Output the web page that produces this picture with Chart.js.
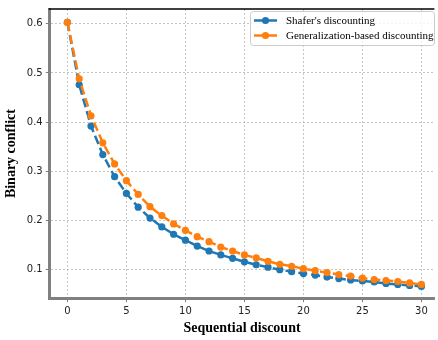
<!DOCTYPE html>
<html>
<head>
<meta charset="utf-8">
<script src="https://cdn.jsdelivr.net/npm/chart.js@4.4.1/dist/chart.umd.min.js"></script>
<style>
  html, body { margin: 0; padding: 0; background: #fff; overflow: hidden; }
  #wrap { width: 438px; height: 340px; }
</style>
</head>
<body>
<div id="wrap"><canvas id="lineCanvas" width="438" height="340"></canvas></div>
<script>
const steps = [0, 1, 2, 3, 4, 5, 6, 7, 8, 9, 10, 11, 12, 13, 14, 15, 16, 17, 18, 19, 20, 21, 22, 23, 24, 25, 26, 27, 28, 29, 30];
const shafer = [0.603, 0.476, 0.392, 0.334, 0.289, 0.255, 0.227, 0.205, 0.187, 0.172, 0.160, 0.148, 0.138, 0.130, 0.123, 0.116, 0.110, 0.105, 0.100, 0.096, 0.092, 0.089, 0.085, 0.082, 0.079, 0.077, 0.075, 0.072, 0.070, 0.068, 0.066];
const generalized = [0.603, 0.488, 0.413, 0.358, 0.315, 0.281, 0.253, 0.228, 0.210, 0.193, 0.180, 0.167, 0.157, 0.146, 0.138, 0.130, 0.124, 0.117, 0.111, 0.107, 0.102, 0.098, 0.094, 0.090, 0.087, 0.083, 0.080, 0.078, 0.076, 0.073, 0.070];
const xTicks = [0, 5, 10, 15, 20, 25, 30];
const yTicks = [0.1, 0.2, 0.3, 0.4, 0.5, 0.6];

const BLUE = "#1f77b4";
const ORANGE = "#ff7f0e";

const toPoints = (vals) => vals.map((v, i) => ({ x: steps[i], y: v }));

// top spine + framed legend inside the plot, like matplotlib
const framePlugin = {
  id: "frame_and_legend",
  afterDraw: (chart) => {
    const { ctx, chartArea: { left, right, top } } = chart;
    ctx.save();
    ctx.strokeStyle = "#000";
    ctx.lineWidth = 1.5;
    ctx.beginPath();
    ctx.moveTo(left - 1, top);
    ctx.lineTo(right, top);
    ctx.stroke();

    // legend box
    const bx = 250, by = 11, bw = 184, bh = 34, r = 3;
    ctx.fillStyle = "rgba(255,255,255,0.8)";
    ctx.strokeStyle = "#cccccc";
    ctx.lineWidth = 1;
    ctx.beginPath();
    ctx.roundRect(bx + 0.5, by + 0.5, bw, bh, r);
    ctx.fill();
    ctx.stroke();

    ctx.font = "11px 'Liberation Serif', serif";
    ctx.textBaseline = "middle";
    ctx.textAlign = "left";
    chart.data.datasets.forEach((ds, i) => {
      const yy = by + 9.5 + i * 15;
      ctx.strokeStyle = ds.borderColor;
      ctx.lineWidth = 2.5;
      ctx.setLineDash([]);
      ctx.beginPath();
      ctx.moveTo(bx + 4, yy);
      ctx.lineTo(bx + 27, yy);
      ctx.stroke();
      ctx.fillStyle = ds.borderColor;
      ctx.beginPath();
      ctx.arc(bx + 15.5, yy, 3.6, 0, Math.PI * 2);
      ctx.fill();
      ctx.fillStyle = "#000";
      ctx.fillText(ds.label, bx + 36, yy + 0.5);
    });
    ctx.restore();
  },
};

const gridStyle = {
  color: "#b8b8b8",
  lineWidth: 0.8,
  tickBorderDash: [],
  tickColor: "#808080",
  tickWidth: 1,
  tickLength: 4,
};

const config = {
  type: "line",
  data: {
    datasets: [
      {
        label: "Shafer's discounting",
        data: toPoints(shafer),
        borderColor: BLUE,
        backgroundColor: BLUE,
        borderWidth: 2.5,
        borderDash: [9, 4],
        pointRadius: 3.6,
        pointHoverRadius: 3.6,
        pointBorderWidth: 0,
        tension: 0,
        order: 2,
      },
      {
        label: "Generalization-based discounting",
        data: toPoints(generalized),
        borderColor: ORANGE,
        backgroundColor: ORANGE,
        borderWidth: 2.5,
        borderDash: [9, 4],
        pointRadius: 3.6,
        pointHoverRadius: 3.6,
        pointBorderWidth: 0,
        tension: 0,
        order: 1,
      },
    ],
  },
  options: {
    responsive: false,
    animation: false,
    layout: { padding: { top: 6, right: 0, left: 3, bottom: 3 } },
    plugins: {
      legend: { display: false },
      tooltip: { enabled: false },
    },
    scales: {
      x: {
        type: "linear",
        min: -1.5,
        max: 31.1,
        afterBuildTicks: (axis) => { axis.ticks = xTicks.map((v) => ({ value: v })); },
        ticks: {
          includeBounds: false,
          font: { family: "'DejaVu Sans'", size: 10 },
          color: "#222",
          padding: 3,
          maxRotation: 0,
        },
        grid: gridStyle,
        border: { color: "#808080", width: 3, dash: [2, 2] },
        title: {
          display: true,
          text: "Sequential discount",
          font: { family: "'Liberation Serif'", size: 14, weight: "bold" },
          color: "#000",
          padding: { top: 0, bottom: 0 },
        },
      },
      y: {
        min: 0.042,
        max: 0.63,
        afterBuildTicks: (axis) => { axis.ticks = yTicks.map((v) => ({ value: v })); },
        ticks: {
          includeBounds: false,
          font: { family: "'DejaVu Sans'", size: 10 },
          color: "#222",
          padding: 3,
          callback: (v) => v.toFixed(1),
        },
        grid: gridStyle,
        border: { color: "#808080", width: 3, dash: [2, 2] },
        title: {
          display: true,
          text: "Binary conflict",
          font: { family: "'Liberation Serif'", size: 14, weight: "bold" },
          color: "#000",
          padding: { top: 0, bottom: 4 },
        },
      },
    },
  },
  plugins: [framePlugin],
};

const canvas = document.getElementById("lineCanvas");
if (canvas) {
  const ctx = canvas.getContext("2d");
  new Chart(ctx, config);
} else {
  console.error("canvas not found");
}
</script>
</body>
</html>
